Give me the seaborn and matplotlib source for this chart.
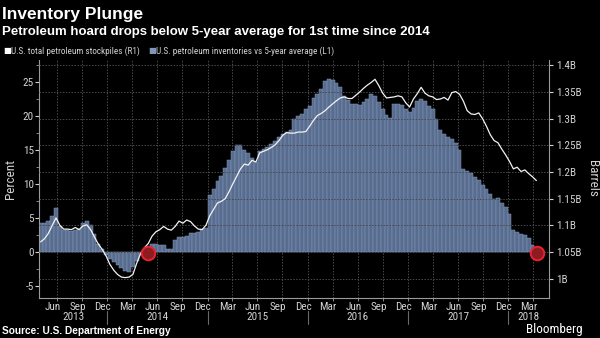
import numpy as np
import pandas as pd
import matplotlib
matplotlib.use("Agg")
import matplotlib.pyplot as plt
import matplotlib.dates as mdates
from matplotlib import font_manager, transforms, ticker
from matplotlib.lines import Line2D
import seaborn as sns

# ---------------- data (biweekly) ----------------
start_date = "2013-05-03"
inventory_vs_avg_pct = [
    4.3, 4.2, 4.5, 5.3, 6.4, 3.8, 3.3, 3.2, 3.1, 3.2,
    3.4, 4.3, 4.5, 4.0, 2.6, 1.2, 0.4, -0.4, -1.0, -1.4,
    -1.9, -2.3, -2.8, -2.9, -2.2, -1.3, -0.5, 0.2, 0.8, 1.2,
    1.2, 1.1, 1.0, 0.5, 0.5, 1.8, 2.2, 2.2, 2.4, 2.8,
    2.8, 3.0, 3.4, 3.5, 8.4, 9.3, 10.5, 11.2, 12.4, 13.6,
    14.8, 15.8, 15.7, 15.0, 14.6, 13.8, 13.3, 14.8, 15.2, 15.5,
    15.9, 16.3, 16.9, 17.3, 17.6, 17.9, 19.6, 20.0, 20.3, 21.0,
    21.5, 22.6, 23.2, 24.0, 25.2, 25.5, 25.3, 24.8, 24.2, 23.0,
    22.4, 21.8, 21.7, 21.6, 22.0, 22.5, 23.3, 23.0, 22.0, 21.0,
    20.2, 19.7, 21.7, 21.8, 21.6, 21.1, 20.6, 21.2, 22.2, 22.5,
    22.2, 21.5, 21.0, 19.5, 18.0, 17.4, 16.9, 16.6, 16.1, 15.0,
    12.2, 11.9, 11.6, 11.0, 10.6, 9.9, 9.3, 8.5, 7.8, 7.9,
    7.2, 6.6, 5.6, 3.3, 3.0, 2.7, 2.5, 2.0, 1.0, -0.3,
]
total_stockpiles_bn = [
    1.069, 1.075, 1.085, 1.100, 1.114, 1.100, 1.093, 1.093, 1.092, 1.096,
    1.092, 1.099, 1.101, 1.092, 1.078, 1.065, 1.055, 1.043, 1.027, 1.016,
    1.008, 1.003, 1.002, 1.003, 1.008, 1.029, 1.047, 1.058, 1.066, 1.080,
    1.088, 1.092, 1.098, 1.093, 1.091, 1.098, 1.108, 1.104, 1.110, 1.107,
    1.099, 1.093, 1.092, 1.100, 1.118, 1.130, 1.142, 1.145, 1.150, 1.163,
    1.178, 1.192, 1.206, 1.215, 1.213, 1.222, 1.219, 1.236, 1.239, 1.242,
    1.246, 1.251, 1.259, 1.269, 1.274, 1.273, 1.273, 1.275, 1.275, 1.276,
    1.286, 1.297, 1.306, 1.310, 1.315, 1.322, 1.328, 1.334, 1.339, 1.341,
    1.338, 1.338, 1.344, 1.350, 1.357, 1.363, 1.368, 1.374, 1.362, 1.348,
    1.339, 1.340, 1.341, 1.343, 1.341, 1.330, 1.322, 1.337, 1.347, 1.359,
    1.348, 1.343, 1.341, 1.336, 1.337, 1.340, 1.335, 1.349, 1.351, 1.346,
    1.333, 1.315, 1.309, 1.308, 1.311, 1.300, 1.286, 1.270, 1.259, 1.255,
    1.243, 1.232, 1.220, 1.206, 1.209, 1.201, 1.204, 1.197, 1.191, 1.184,
]
highlight_dates = ["2014-05-30", "2018-04-17"]
highlight_bn = [1.0476, 1.0476]

left_ticks = [-5, 0, 5, 10, 15, 20, 25]
right_ticks = [1.0, 1.05, 1.1, 1.15, 1.2, 1.25, 1.3, 1.35, 1.4]
right_tick_labels = ["1B", "1.05B", "1.1B", "1.15B", "1.2B", "1.25B", "1.3B", "1.35B", "1.4B"]
years = [2013, 2014, 2015, 2016, 2017, 2018]

title = "Inventory Plunge"
subtitle = "Petroleum hoard drops below 5-year average for 1st time since 2014"
legend_line = "U.S. total petroleum stockpiles (R1)"
legend_bar = "U.S. petroleum inventories vs 5-year average (L1)"
source = "Source: U.S. Department of Energy"

# ---------------- style ----------------
sns.set_theme(style="dark")
names = {f.name for f in font_manager.fontManager.ttflist}
narrow = "DejaVu Sans"
for cand in ["Liberation Sans Narrow", "DejaVu Sans Condensed", "Roboto Condensed",
             "Open Sans Condensed", "Liberation Sans"]:
    if cand in names:
        narrow = cand
        break
wide = "Liberation Sans" if "Liberation Sans" in names else "DejaVu Sans"
plt.rcParams["font.family"] = [narrow, "DejaVu Sans"]

BG = "black"
BAR = "#586c8e"
BAR_EDGE = "#8196b8"
TXT = "#d2d2d2"
SPINE = "#9a9a9a"
GRID = "#4a4a4a"

dates = pd.date_range(start_date, periods=len(inventory_vs_avg_pct), freq="14D")
df = pd.DataFrame({
    "x": mdates.date2num(dates),
    "pct": inventory_vs_avg_pct,
    "stock": total_stockpiles_bn,
})

fig = plt.figure(figsize=(6, 3.38), dpi=100, facecolor=BG)
W, H = 600.0, 338.0
ax1 = fig.add_axes([39.3 / W, 1 - 297.7 / H, (549.3 - 39.3) / W, (297.7 - 60) / H])
ax1.set_facecolor(BG)

sns.barplot(data=df, x="x", y="pct", native_scale=True, width=1.0, color=BAR,
            saturation=1, edgecolor=BAR_EDGE, linewidth=0.35, errorbar=None, ax=ax1)

ax2 = ax1.twinx()
sns.lineplot(data=df, x="x", y="stock", color="#f2f2f2", linewidth=0.9, ax=ax2, zorder=5)
hx = mdates.date2num(pd.to_datetime(highlight_dates))
sns.scatterplot(x=hx, y=highlight_bn, s=95, color="#8c1b22", edgecolor="#e8232f",
                linewidth=1.4, ax=ax2, zorder=6, legend=False)

# limits
xmin = mdates.date2num(pd.Timestamp("2013-04-28"))
xmax = mdates.date2num(pd.Timestamp("2018-05-30"))
ax1.set_xlim(xmin, xmax)
ax1.set_ylim(-6.72, 28.24)
ax2.set_ylim(0.9643, 1.4102)

# left axis
ax1.set_yticks(left_ticks)
ax1.yaxis.set_major_formatter(ticker.FuncFormatter(lambda v, p: f"{v:g}"))
ax1.yaxis.set_minor_locator(ticker.MultipleLocator(2.5))
ax1.tick_params(axis="y", which="major", colors=TXT, labelsize=8, length=3, width=0.8, pad=1, left=True)
ax1.tick_params(axis="y", which="minor", color=SPINE, length=2, width=0.6, left=True)
ax1.set_ylabel("Percent", color=TXT, fontsize=9.5, labelpad=4)
ax1.set_xlabel("")

# right axis
ax2.set_yticks(right_ticks)
ax2.set_yticklabels(right_tick_labels)
ax2.tick_params(axis="y", colors=TXT, labelsize=8, length=3, width=0.8, pad=2, right=True)
ax2.set_ylabel("Barrels", color=TXT, fontsize=9.5, rotation=270, labelpad=12)
ax2.set_xlabel("")
ax2.grid(axis="y", color=GRID, linestyle=(0, (1.5, 1.5)), linewidth=0.7, zorder=0)

# x axis: gridlines at quarter starts, month labels mid-month
ax1.xaxis.set_major_locator(mdates.MonthLocator(bymonth=[1, 4, 7, 10], bymonthday=1))
ax1.xaxis.set_major_formatter(ticker.NullFormatter())
ax1.xaxis.set_minor_locator(mdates.MonthLocator(bymonth=[3, 6, 9, 12], bymonthday=15))
ax1.xaxis.set_minor_formatter(mdates.DateFormatter("%b"))
ax1.tick_params(axis="x", which="major", color=SPINE, length=2, width=0.6, bottom=True)
ax1.tick_params(axis="x", which="minor", colors=TXT, labelsize=8, length=0, pad=3)
ax1.grid(axis="x", which="major", color=GRID, linestyle=(0, (1.5, 1.5)), linewidth=0.7)
ax1.grid(axis="y", visible=False)
ax1.set_axisbelow(True)

for sp in ["top", "right"]:
    ax1.spines[sp].set_visible(False)
for sp in ["left", "bottom"]:
    ax1.spines[sp].set_color(SPINE)
    ax1.spines[sp].set_linewidth(0.8)
for sp in ["top", "left", "bottom"]:
    ax2.spines[sp].set_visible(False)
ax2.spines["right"].set_color(SPINE)
ax2.spines["right"].set_linewidth(0.8)

# year labels and separators under the month labels
blend = transforms.blended_transform_factory(ax1.transData, fig.transFigure)
for yr in years:
    s = max(mdates.date2num(pd.Timestamp(f"{yr}-01-01")), xmin)
    e = min(mdates.date2num(pd.Timestamp(f"{yr + 1}-01-01")), xmax)
    fig.text((s + e) / 2, 1 - 317.5 / H, str(yr), transform=blend, ha="center",
             va="center", color=TXT, fontsize=8)
    if yr > years[0]:
        xs = mdates.date2num(pd.Timestamp(f"{yr}-01-01"))
        fig.add_artist(Line2D([xs, xs], [1 - 311 / H, 1 - 323.5 / H], transform=blend,
                              color="#6a6a6a", linewidth=0.8))

# titles / legend / footer
fig.text(2 / W, 1 - 18.5 / H, title, color="white", fontsize=12.5, fontweight="bold",
         ha="left", va="baseline", family=[wide, "DejaVu Sans"])
fig.text(2 / W, 1 - 34.5 / H, subtitle, color="white", fontsize=9.5, fontweight="bold",
         ha="left", va="baseline", family=[wide, "DejaVu Sans"])
fig.text(3.5 / W, 1 - 51 / H, "\u25a0", color="white", fontsize=6, ha="left", va="center",
         family="DejaVu Sans")
fig.text(10.5 / W, 1 - 51 / H, legend_line, color=TXT, fontsize=6.6, ha="left", va="center")
fig.text(148.5 / W, 1 - 51 / H, "\u25a0", color="#8196b8", fontsize=6, ha="left", va="center",
         family="DejaVu Sans")
fig.text(156 / W, 1 - 51 / H, legend_bar, color=TXT, fontsize=6.6, ha="left", va="center")
fig.text(2 / W, 1 - 331.5 / H, source, color="white", fontsize=7.3, fontweight="bold",
         ha="left", va="center", family=[wide, "DejaVu Sans"])
fig.text(583 / W, 1 - 329.5 / H, "Bloomberg", color="white", fontsize=9.5, ha="right",
         va="center")

fig.savefig("out.png", dpi=100, facecolor=BG)
